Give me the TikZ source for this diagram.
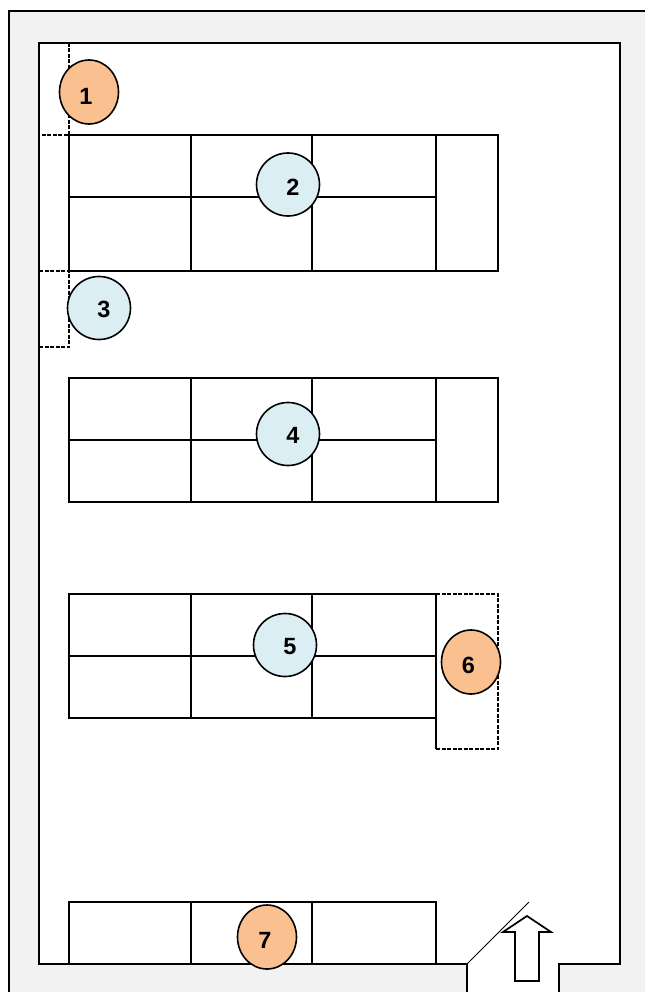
\documentclass[tikz,border=0pt]{standalone}
\usepackage{fontspec}
\setmainfont{Liberation Sans}
\definecolor{wallgray}{HTML}{F2F2F2}
\definecolor{spotblue}{HTML}{DBEEF4}
\definecolor{spotorange}{HTML}{FAC090}
\tikzstyle{wall}=[line width=1.7pt]
\tikzstyle{shelf}=[line width=1.7pt]
\tikzstyle{extra}=[line width=1.7pt, dash pattern=on 4pt off 1.5pt]
\tikzstyle{blue spot}=[circle, draw, line width=1.6pt, fill=spotblue, minimum size=63pt, inner sep=0pt]
\tikzstyle{orange spot}=[ellipse, draw, line width=1.6pt, fill=spotorange, minimum width=59pt, minimum height=64pt, inner sep=0pt]
\tikzstyle{number}=[font=\fontsize{23.5}{25}\selectfont\bfseries, inner sep=0pt]
\usetikzlibrary{shapes.geometric}

\begin{document}
\begin{tikzpicture}[x=1pt,y=-1pt]
            \useasboundingbox (0,0) rectangle (645,992);
            % walls
            \fill[white] (0,0) rectangle (645,992);
            \fill[wallgray] (9,11) rectangle (645,992);
            \fill[white] (39,43) rectangle (620,964);
            \fill[white] (467,964) rectangle (559,992);
            \draw[wall] (9,992) -- (9,11) -- (645,11);
            \draw[wall] (467,992) -- (467,964) -- (39,964) -- (39,43) -- (620,43) -- (620,964) -- (559,964) -- (559,992);
            % shelves
            \draw[shelf] (69,135) rectangle (436,271);
            \draw[shelf] (69,197) -- (436,197);
            \draw[shelf] (436,135) rectangle (498,271);
            \draw[shelf] (69,378) rectangle (436,502);
            \draw[shelf] (69,440) -- (436,440);
            \draw[shelf] (436,378) rectangle (498,502);
            \draw[shelf] (69,594) rectangle (436,718);
            \draw[shelf] (69,656) -- (436,656);
            \draw[shelf] (69,902) rectangle (436,964);
            \foreach \x in {191,312} {
                \draw[shelf] (\x,135) -- (\x,271);
                \draw[shelf] (\x,378) -- (\x,502);
                \draw[shelf] (\x,594) -- (\x,718);
                \draw[shelf] (\x,902) -- (\x,964);
            }
            % dashed places
            \draw[extra] (69,43) -- (69,135) -- (39,135);
            \draw[extra] (39,271) -- (69,271) -- (69,347) -- (39,347);
            \draw[extra] (436,594) -- (498,594) -- (498,749) -- (436,749);
            \draw[shelf] (436,718) -- (436,749);
            % door
            \coordinate (hinge) at (467,964);
            \coordinate (doorend) at (529,902);
            \draw[line width=0.9pt] (hinge) -- (doorend);
            \draw[line width=1.7pt, fill=white] (527,916) -- (551,932) -- (539,932) -- (539,981) -- (515,981) -- (515,932) -- (503,932) -- cycle;
            % spots
            \node[orange spot] at (89,92) (S1) {};
            \node[blue spot] at (288,184.5) (S2) {};
            \node[blue spot] at (99,308) (S3) {};
            \node[blue spot] at (288,434) (S4) {};
            \node[blue spot] at (285,645) (S5) {};
            \node[orange spot] at (471,662) (S6) {};
            \node[orange spot] at (267,937) (S7) {};
            \node[number] at (86,96) (N1) {1};
            \node[number] at (293,187) (N2) {2};
            \node[number] at (104,309) (N3) {3};
            \node[number] at (293,435) (N4) {4};
            \node[number] at (290,647) (N5) {5};
            \node[number] at (468.5,665) (N6) {6};
            \node[number] at (265,940) (N7) {7};
        \end{tikzpicture}
\end{document}
